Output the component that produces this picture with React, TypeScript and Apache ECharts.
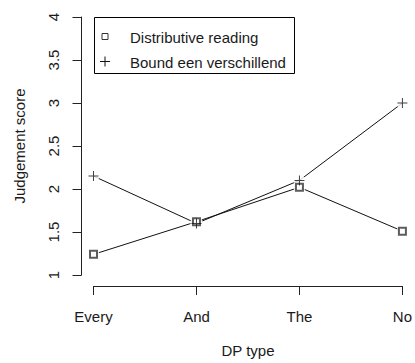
import React, { useEffect, useRef } from "react";
import * as echarts from "echarts";

const categories = ["Every", "And", "The", "No"];
const distributive = [1.24, 1.62, 2.02, 1.51];
const bound = [2.15, 1.6, 2.1, 3.0];
const seriesNames = ["Distributive reading", "Bound een verschillend"];
const yTicks = { min: 1, max: 4, interval: 0.5 };

const FONT = "Liberation Sans, Arial, sans-serif";
const TEXT = "#1a1a1a";
const PLUS = "path://M0,4.5h10v1h-10z M4.5,0h1v10h-1z";

export default function App() {
  const ref = useRef<HTMLDivElement>(null);
  useEffect(() => {
    document.body.style.margin = "0";
    const chart = echarts.init(ref.current!, null, { renderer: "svg" });
    const gap = (data: number[], name: string) => ({
      type: "scatter",
      name: name + " gap",
      data,
      symbol: "circle",
      symbolSize: 12,
      itemStyle: { color: "#fff" },
      z: 3,
      silent: true,
    });
    chart.setOption({
      animation: false,
      backgroundColor: "#fff",
      grid: { left: 93.5, width: 313, top: 17, height: 260 },
      xAxis: {
        type: "category",
        data: categories,
        boundaryGap: false,
        offset: 11,
        axisLine: { lineStyle: { color: "#222", width: 1 } },
        axisTick: { length: 9, lineStyle: { color: "#222" } },
        axisLabel: { color: TEXT, fontFamily: FONT, fontSize: 15, margin: 23 },
        name: "DP type",
        nameLocation: "middle",
        nameGap: 57,
        nameTextStyle: { color: TEXT, fontFamily: FONT, fontSize: 15 },
      },
      yAxis: {
        type: "value",
        min: yTicks.min,
        max: yTicks.max,
        interval: yTicks.interval,
        offset: 12,
        splitLine: { show: false },
        axisLine: { show: true, lineStyle: { color: "#222", width: 1 } },
        axisTick: { show: true, length: 9, lineStyle: { color: "#222" } },
        axisLabel: { color: TEXT, fontFamily: FONT, fontSize: 15, rotate: 90, margin: 21 },
        name: "Judgement score",
        nameLocation: "middle",
        nameRotate: 90,
        nameGap: 55,
        nameTextStyle: { color: TEXT, fontFamily: FONT, fontSize: 15 },
      },
      series: [
        {
          type: "line",
          name: seriesNames[0],
          data: distributive,
          symbol: "none",
          lineStyle: { color: "#111", width: 1 },
          z: 2,
          clip: false,
        },
        {
          type: "line",
          name: seriesNames[1],
          data: bound,
          symbol: "none",
          lineStyle: { color: "#111", width: 1 },
          z: 2,
          clip: false,
        },
        gap(distributive, seriesNames[0]),
        gap(bound, seriesNames[1]),
        {
          type: "scatter",
          name: seriesNames[0] + " marker",
          data: distributive,
          symbol: "emptyRect",
          symbolSize: 7,
          itemStyle: { color: "#333", borderWidth: 1 },
          z: 4,
        },
        {
          type: "scatter",
          name: seriesNames[1] + " marker",
          data: bound,
          symbol: PLUS,
          symbolSize: 10,
          itemStyle: { color: "#111" },
          z: 4,
        },
      ],
      graphic: [
        {
          type: "rect",
          shape: { x: 94.5, y: 17.5, width: 200, height: 56 },
          style: { fill: "#fff", stroke: "#000", lineWidth: 1 },
          z: 10,
        },
        {
          type: "rect",
          shape: { x: 102, y: 33.5, width: 6, height: 6 },
          style: { fill: "#fff", stroke: "#333", lineWidth: 1 },
          z: 11,
        },
        {
          type: "line",
          shape: { x1: 100, y1: 61.5, x2: 110, y2: 61.5 },
          style: { stroke: "#111", lineWidth: 1 },
          z: 11,
        },
        {
          type: "line",
          shape: { x1: 105, y1: 56.5, x2: 105, y2: 66.5 },
          style: { stroke: "#111", lineWidth: 1 },
          z: 11,
        },
        {
          type: "text",
          x: 130,
          y: 37,
          style: { text: seriesNames[0], fill: TEXT, font: `15px ${FONT}`, verticalAlign: "middle" },
          z: 11,
        },
        {
          type: "text",
          x: 130,
          y: 62,
          style: { text: seriesNames[1], fill: TEXT, font: `15px ${FONT}`, verticalAlign: "middle" },
          z: 11,
        },
      ],
    });
    return () => chart.dispose();
  }, []);
  return <div ref={ref} style={{ position: "absolute", left: 0, top: 0, width: 415, height: 363 }} />;
}
